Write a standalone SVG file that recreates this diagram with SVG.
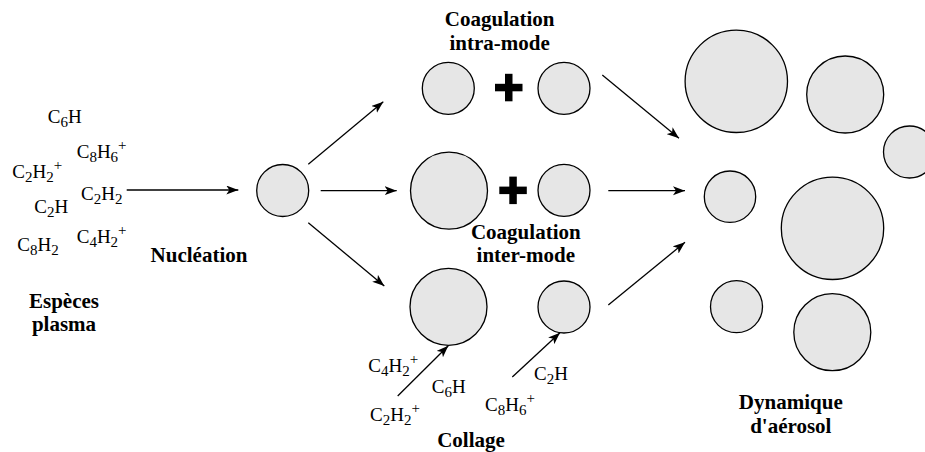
<svg xmlns="http://www.w3.org/2000/svg" width="925" height="452" viewBox="0 0 925 452">
<defs>
<style>
.p{fill:#e6e6e6;stroke:#000;stroke-width:1.3}
.c{stroke:#000;stroke-width:1.3;fill:none;marker-end:url(#ah)}
.t{font-family:"Liberation Serif","Times New Roman",serif;font-size:19px;fill:#000}
.s{font-size:15px}
.b{font-family:"Liberation Serif","Times New Roman",serif;font-size:21px;font-weight:bold;fill:#000;text-anchor:middle}
.x{fill:#000}
</style>
<marker id="ah" markerUnits="userSpaceOnUse" markerWidth="13" markerHeight="10" refX="12" refY="4.5" orient="auto">
<path d="M0,0 L12,4.5 L0,9 L3,4.5 z" fill="#000"/>
</marker>
</defs>
<rect width="925" height="452" fill="#fff"/>

<g id="connectors">
<line class="c" x1="126.7" y1="190" x2="238.3" y2="190"/>
<line class="c" x1="308.3" y1="164.3" x2="383.3" y2="101.7"/>
<line class="c" x1="320.7" y1="190.7" x2="396.7" y2="190.7"/>
<line class="c" x1="308.3" y1="222.7" x2="384.3" y2="286"/>
<line class="c" x1="602.3" y1="75" x2="679" y2="138.3"/>
<line class="c" x1="608.3" y1="190.7" x2="685" y2="190.7"/>
<line class="c" x1="608.3" y1="305" x2="685" y2="242.3"/>
<line class="c" x1="397.7" y1="396" x2="448.3" y2="345.7"/>
<line class="c" x1="512.3" y1="377" x2="560" y2="332.7"/>
</g>

<g id="plasma-species">
<text class="t" x="47.7" y="123">C<tspan class="s" dy="4">6</tspan><tspan dy="-4">H</tspan></text>
<text class="t" x="76.7" y="158">C<tspan class="s" dy="4">8</tspan><tspan dy="-4">H</tspan><tspan class="s" dy="4">6</tspan><tspan class="s" dy="-12">+</tspan></text>
<text class="t" x="12.3" y="178">C<tspan class="s" dy="4">2</tspan><tspan dy="-4">H</tspan><tspan class="s" dy="4">2</tspan><tspan class="s" dy="-12">+</tspan></text>
<text class="t" x="81" y="200">C<tspan class="s" dy="4">2</tspan><tspan dy="-4">H</tspan><tspan class="s" dy="4">2</tspan></text>
<text class="t" x="34.3" y="213">C<tspan class="s" dy="4">2</tspan><tspan dy="-4">H</tspan></text>
<text class="t" x="76.7" y="243">C<tspan class="s" dy="4">4</tspan><tspan dy="-4">H</tspan><tspan class="s" dy="4">2</tspan><tspan class="s" dy="-12">+</tspan></text>
<text class="t" x="17.3" y="251">C<tspan class="s" dy="4">8</tspan><tspan dy="-4">H</tspan><tspan class="s" dy="4">2</tspan></text>
<text class="b" x="64" y="308">Espèces</text>
<text class="b" x="64" y="331">plasma</text>
</g>

<g id="nucleation">
<circle class="p" cx="282.7" cy="190.5" r="26"/>
<text class="b" x="199" y="262">Nucléation</text>
</g>

<g id="coag-intra">
<text class="b" x="499.7" y="26">Coagulation</text>
<text class="b" x="499.7" y="50">intra-mode</text>
<circle class="p" cx="448.3" cy="88.3" r="26"/>
<rect class="x" x="495" y="83.8" width="27.5" height="7.5"/>
<rect class="x" x="505" y="73.8" width="7.5" height="27.5"/>
<circle class="p" cx="564" cy="88.3" r="26"/>
</g>

<g id="coag-inter">
<circle class="p" cx="449" cy="190.7" r="38.5"/>
<rect class="x" x="499.3" y="186.6" width="27.5" height="7.5"/>
<rect class="x" x="509.3" y="176.6" width="7.5" height="27.5"/>
<circle class="p" cx="564" cy="190.3" r="26"/>
<text class="b" x="525.8" y="239">Coagulation</text>
<text class="b" x="525.8" y="262">inter-mode</text>
</g>

<g id="collage">
<circle class="p" cx="448.5" cy="306.8" r="38.5"/>
<circle class="p" cx="564" cy="307" r="26"/>
<text class="t" x="368.3" y="372">C<tspan class="s" dy="4">4</tspan><tspan dy="-4">H</tspan><tspan class="s" dy="4">2</tspan><tspan class="s" dy="-12">+</tspan></text>
<text class="t" x="431.7" y="393">C<tspan class="s" dy="4">6</tspan><tspan dy="-4">H</tspan></text>
<text class="t" x="370" y="421">C<tspan class="s" dy="4">2</tspan><tspan dy="-4">H</tspan><tspan class="s" dy="4">2</tspan><tspan class="s" dy="-12">+</tspan></text>
<text class="t" x="485" y="411">C<tspan class="s" dy="4">8</tspan><tspan dy="-4">H</tspan><tspan class="s" dy="4">6</tspan><tspan class="s" dy="-12">+</tspan></text>
<text class="t" x="534" y="380">C<tspan class="s" dy="4">2</tspan><tspan dy="-4">H</tspan></text>
<text class="b" x="471" y="447">Collage</text>
</g>

<g id="aerosol-dynamics">
<circle class="p" cx="736.3" cy="81.3" r="51.2"/>
<circle class="p" cx="845.2" cy="94.5" r="38.5"/>
<circle class="p" cx="909.5" cy="152" r="26"/>
<circle class="p" cx="730" cy="196.7" r="25.7"/>
<circle class="p" cx="832.5" cy="228.3" r="51.2"/>
<circle class="p" cx="736.5" cy="306.7" r="26"/>
<circle class="p" cx="832.3" cy="332.2" r="38.5"/>
<text class="b" x="790.8" y="409">Dynamique</text>
<text class="b" x="790.8" y="433">d'aérosol</text>
</g>
</svg>
